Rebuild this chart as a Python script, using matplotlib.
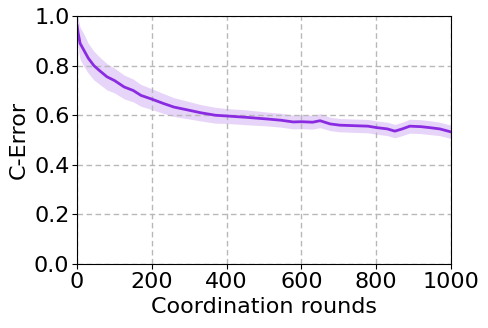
import matplotlib
matplotlib.use("Agg")
import matplotlib.pyplot as plt
import numpy as np

# values
rounds = [0, 3, 8, 19, 30, 45, 60, 80, 100, 126, 150, 171, 200, 230, 259, 300, 331,
          370, 401, 450, 508, 545, 578, 600, 630, 650, 677, 703, 740, 778, 802, 830,
          850, 870, 890, 920, 944, 970, 1000]
mean_err = [0.96, 0.93, 0.89, 0.86, 0.83, 0.80, 0.78, 0.755, 0.74, 0.714, 0.70, 0.68,
            0.665, 0.648, 0.633, 0.62, 0.61, 0.60, 0.597, 0.592, 0.585, 0.58, 0.573,
            0.574, 0.572, 0.578, 0.565, 0.56, 0.558, 0.556, 0.55, 0.545, 0.536, 0.545,
            0.556, 0.554, 0.55, 0.545, 0.533]
spread = [0.04, 0.06, 0.065, 0.065, 0.06, 0.058, 0.055, 0.053, 0.05, 0.048, 0.046,
          0.044, 0.042, 0.04, 0.038, 0.035, 0.033, 0.032, 0.03, 0.03, 0.028, 0.028,
          0.028, 0.028, 0.028, 0.028, 0.027, 0.027, 0.027, 0.027, 0.027, 0.027, 0.027,
          0.027, 0.028, 0.028, 0.028, 0.027, 0.027]

x = np.array(rounds)
m = np.array(mean_err)
s = np.array(spread)

fig = plt.figure(figsize=(4.88, 3.28), dpi=100)
ax = fig.add_axes([0.158, 0.195, 0.766, 0.756])

col = "#8a2be2"
ax.fill_between(x, m - s, m + s, color=col, alpha=0.2, linewidth=0)
ax.plot(x, m, color=col, linewidth=2)

ax.set_xlim(0, 1000)
ax.set_ylim(0, 1.0)
ax.set_xticks([0, 200, 400, 600, 800, 1000])
ax.set_yticks([0.0, 0.2, 0.4, 0.6, 0.8, 1.0])
ax.tick_params(labelsize=16, pad=2)
ax.grid(True, linestyle=(0, (4, 2.5)), color="#b8b8b8", linewidth=1)
ax.set_xlabel("Coordination rounds", fontsize=16, labelpad=4)
ax.set_ylabel("C-Error", fontsize=16, labelpad=4)

fig.savefig("out.png", dpi=100)
